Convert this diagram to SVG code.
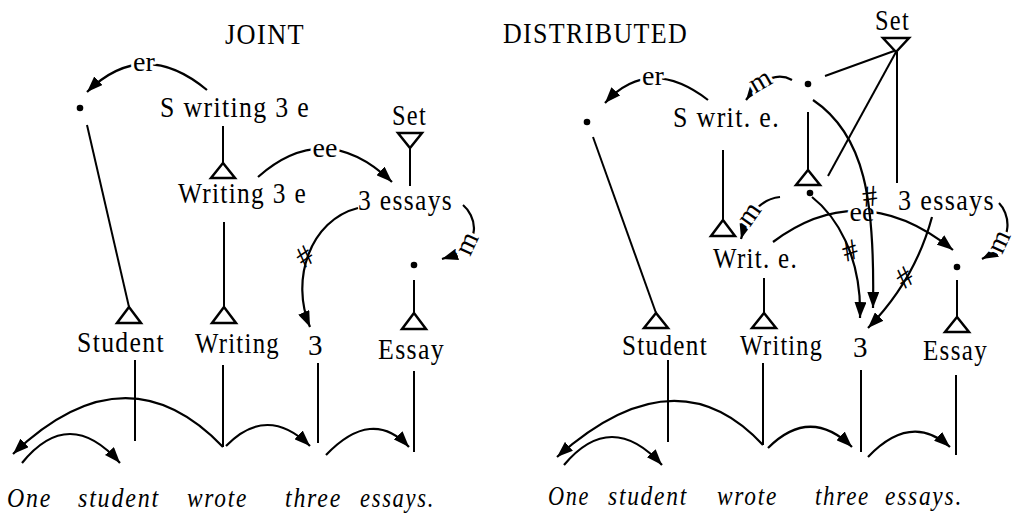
<svg xmlns="http://www.w3.org/2000/svg" width="1013" height="513" viewBox="0 0 1013 513">
<style>
.t{font-family:"Liberation Serif","Times New Roman",serif;font-size:29px;letter-spacing:1.5px;fill:#000}
.i{font-family:"Liberation Serif","Times New Roman",serif;font-size:27px;letter-spacing:2px;font-style:italic;fill:#000}
.lb{font-family:"Liberation Serif","Times New Roman",serif;font-size:28px;fill:#000;stroke:#fff;stroke-width:6px;paint-order:stroke;stroke-linejoin:round;text-anchor:middle}
.hs{font-family:"Liberation Serif","Times New Roman",serif;font-size:30px;fill:#000;text-anchor:middle}
.ln{stroke:#000;stroke-width:2;fill:none}
.ar{stroke:#000;stroke-width:2.2;fill:none;marker-end:url(#ah)}
.tri{fill:#fff;stroke:#000;stroke-width:2.5;stroke-linejoin:miter}
.dot{fill:#000}
</style>
<defs>
<marker id="ah" viewBox="0 0 16 12" refX="16" refY="6" markerWidth="16" markerHeight="12" markerUnits="userSpaceOnUse" orient="auto"><path d="M0,0 L16,6 L0,12 z" fill="#000"/></marker>
</defs>
<rect width="1013" height="513" fill="#fff"/>

<g id="titles">
<text class="t" x="225" y="44" textLength="80" lengthAdjust="spacingAndGlyphs">JOINT</text>
<text class="t" x="503" y="43" textLength="185" lengthAdjust="spacingAndGlyphs">DISTRIBUTED</text>
</g>

<!-- LEFT PANEL NODES -->
<g id="L-dot1"><circle class="dot" cx="80" cy="108" r="3.3"/></g>
<g id="L-swriting"><text class="t" x="160" y="117" textLength="150" lengthAdjust="spacingAndGlyphs">S writing 3 e</text></g>
<g id="L-writing3e"><polygon class="tri" points="223,163 211,178 235,178"/><text class="t" x="178" y="203" textLength="129" lengthAdjust="spacingAndGlyphs">Writing 3 e</text></g>
<g id="L-set"><text class="t" x="392" y="125" textLength="35" lengthAdjust="spacingAndGlyphs">Set</text><polygon class="tri" points="398,133 422,133 410,148"/></g>
<g id="L-3essays"><text class="t" x="358" y="210" textLength="95" lengthAdjust="spacingAndGlyphs">3 essays</text></g>
<g id="L-dot2"><circle class="dot" cx="414" cy="265" r="3.3"/></g>
<g id="L-student"><polygon class="tri" points="129,307 117,323 141,323"/><text class="t" x="77" y="352" textLength="88" lengthAdjust="spacingAndGlyphs">Student</text></g>
<g id="L-writing"><polygon class="tri" points="224,307 212,323 236,323"/><text class="t" x="195" y="353" textLength="85" lengthAdjust="spacingAndGlyphs">Writing</text></g>
<g id="L-3"><text class="t" x="308" y="355">3</text></g>
<g id="L-essay"><polygon class="tri" points="414,313 402,329 426,329"/><text class="t" x="378" y="359" textLength="67" lengthAdjust="spacingAndGlyphs">Essay</text></g>
<g id="L-sentence">
<text class="i" x="7" y="507" textLength="45" lengthAdjust="spacingAndGlyphs">One</text>
<text class="i" x="78" y="507" textLength="82" lengthAdjust="spacingAndGlyphs">student</text>
<text class="i" x="187" y="507" textLength="61" lengthAdjust="spacingAndGlyphs">wrote</text>
<text class="i" x="285" y="507" textLength="57" lengthAdjust="spacingAndGlyphs">three</text>
<text class="i" x="360" y="507" textLength="75" lengthAdjust="spacingAndGlyphs">essays.</text>
</g>

<!-- RIGHT PANEL NODES -->
<g id="R-set"><text class="t" x="875" y="30" textLength="35" lengthAdjust="spacingAndGlyphs">Set</text><polygon class="tri" points="883,38 909,38 896,52"/></g>
<g id="R-dot0"><circle class="dot" cx="808" cy="84" r="3.3"/></g>
<g id="R-dot1"><circle class="dot" cx="587" cy="122" r="3.3"/></g>
<g id="R-swrit"><text class="t" x="673" y="127" textLength="107" lengthAdjust="spacingAndGlyphs">S writ. e.</text></g>
<g id="R-tri-upper"><polygon class="tri" points="808,170 796,185 820,185"/><circle class="dot" cx="810" cy="193" r="3.3"/></g>
<g id="R-writ"><polygon class="tri" points="723,220 711,236 735,236"/><text class="t" x="713" y="268" textLength="85" lengthAdjust="spacingAndGlyphs">Writ. e.</text></g>
<g id="R-3essays"><text class="t" x="898" y="210" textLength="97" lengthAdjust="spacingAndGlyphs">3 essays</text></g>
<g id="R-dot2"><circle class="dot" cx="957" cy="267" r="3.3"/></g>
<g id="R-student"><polygon class="tri" points="656,313 644,328 668,328"/><text class="t" x="622" y="355" textLength="86" lengthAdjust="spacingAndGlyphs">Student</text></g>
<g id="R-writing"><polygon class="tri" points="764,313 752,328 776,328"/><text class="t" x="740" y="355" textLength="83" lengthAdjust="spacingAndGlyphs">Writing</text></g>
<g id="R-3"><text class="t" x="853" y="357">3</text></g>
<g id="R-essay"><polygon class="tri" points="957,317 945,332 969,332"/><text class="t" x="923" y="360" textLength="65" lengthAdjust="spacingAndGlyphs">Essay</text></g>
<g id="R-sentence">
<text class="i" x="548" y="505" textLength="42" lengthAdjust="spacingAndGlyphs">One</text>
<text class="i" x="608" y="505" textLength="80" lengthAdjust="spacingAndGlyphs">student</text>
<text class="i" x="717" y="505" textLength="61" lengthAdjust="spacingAndGlyphs">wrote</text>
<text class="i" x="815" y="505" textLength="55" lengthAdjust="spacingAndGlyphs">three</text>
<text class="i" x="885" y="505" textLength="78" lengthAdjust="spacingAndGlyphs">essays.</text>
</g>

<g id="connectors">
<!-- left lines -->
<path class="ln" d="M87,125 L129,307"/>
<path class="ln" d="M223,126 L223,163"/>
<path class="ln" d="M224,222 L224,307"/>
<path class="ln" d="M410,148 L410,186"/>
<path class="ln" d="M414,280 L414,313"/>
<path class="ln" d="M135,360 L135,441"/>
<path class="ln" d="M223,365 L223,447"/>
<path class="ln" d="M318,363 L318,443"/>
<path class="ln" d="M414,371 L414,452"/>
<!-- left arcs -->
<path class="ar" d="M207,90 Q143,37 87,92"/>
<text class="lb" x="144" y="71">er</text>
<path class="ar" d="M258,177 Q325,118 392,182"/>
<text class="lb" x="325" y="157">ee</text>
<path class="ar" d="M358,208 C310,220 290,280 310,327"/>
<text class="hs" transform="translate(305,257) rotate(-35)" y="9">#</text>
<path class="ar" d="M463,205 C474,214 488,245 442,259"/>
<text class="lb" transform="translate(470,245) rotate(-65)" y="5">m</text>
<path class="ar" d="M223,447 Q126,346 13,454"/>
<path class="ar" d="M22,463 Q69,405 120,463"/>
<path class="ar" d="M226,446 Q267,404 310,446"/>
<path class="ar" d="M326,455 Q372,407 409,447"/>

<!-- right lines -->
<path class="ln" d="M593,137 L656,313"/>
<path class="ln" d="M723,150 L723,220"/>
<path class="ln" d="M764,278 L764,313"/>
<path class="ln" d="M825,76 L894,51"/>
<path class="ln" d="M896,52 L828,176"/>
<path class="ln" d="M897,52 L897,183"/>
<path class="ln" d="M808,112 L808,170"/>
<path class="ln" d="M957,280 L957,317"/>
<path class="ln" d="M668,360 L668,442"/>
<path class="ln" d="M763,363 L763,445"/>
<path class="ln" d="M861,370 L861,452"/>
<path class="ln" d="M956,375 L956,455"/>
<!-- right arcs -->
<path class="ar" d="M708,100 Q649,55 605,103"/>
<text class="lb" x="653" y="85">er</text>
<path class="ar" d="M792,80 Q770,68 746,100"/>
<text class="lb" transform="translate(762,84) rotate(-30)" y="5">m</text>
<path class="ar" d="M780,197 Q752,200 741,239"/>
<text class="lb" transform="translate(752,216) rotate(-55)" y="5">m</text>
<path class="ar" d="M773,242 Q861,176 953,250"/>
<text class="lb" x="862" y="221">ee</text>
<path class="ar" d="M999,203 C1008,212 1018,240 982,259"/>
<text class="lb" transform="translate(1002,243) rotate(-65)" y="5">m</text>
<path class="ar" d="M813,100 C865,135 875,200 873,308"/>
<text class="hs" transform="translate(870,197) rotate(-8)" y="9">#</text>
<path class="ar" d="M812,197 C835,215 862,255 860,318"/>
<text class="hs" transform="translate(850,251) rotate(-18)" y="9">#</text>
<path class="ar" d="M932,217 Q915,280 868,328"/>
<text class="hs" transform="translate(905,278) rotate(-35)" y="9">#</text>
<path class="ar" d="M763,445 Q676,351 557,457"/>
<path class="ar" d="M564,465 Q611,409 662,465"/>
<path class="ar" d="M768,448 Q810,406 852,447"/>
<path class="ar" d="M868,457 Q911,412 950,447"/>
</g>
</svg>
